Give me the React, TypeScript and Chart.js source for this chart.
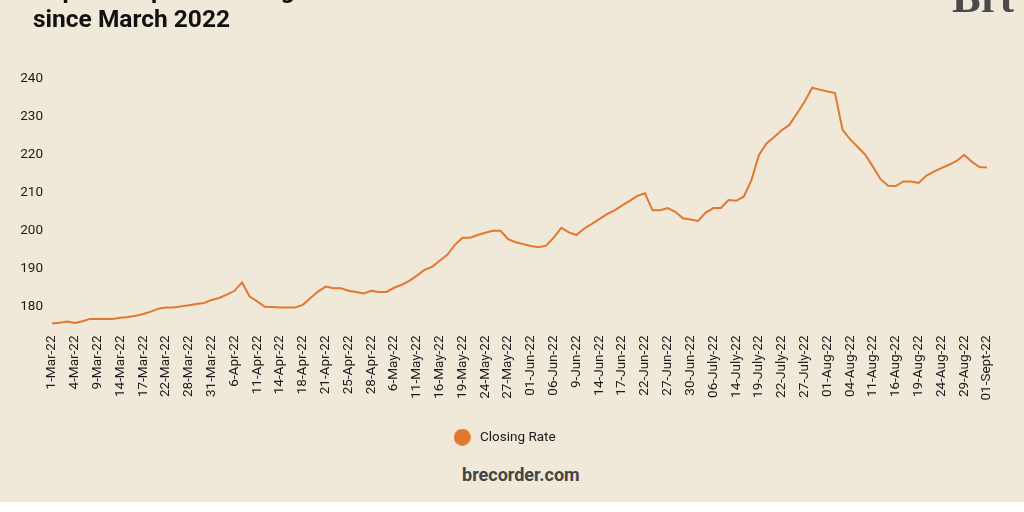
import React, { useEffect, useRef } from "react";
import { Chart, registerables } from "chart.js";

Chart.register(...registerables);

const dates: string[] = [
  "1-Mar-22", "2-Mar-22", "3-Mar-22", "4-Mar-22", "7-Mar-22", "8-Mar-22",
  "9-Mar-22", "10-Mar-22", "11-Mar-22", "14-Mar-22", "15-Mar-22", "16-Mar-22",
  "17-Mar-22", "18-Mar-22", "21-Mar-22", "22-Mar-22", "24-Mar-22", "25-Mar-22",
  "28-Mar-22", "29-Mar-22", "30-Mar-22", "31-Mar-22", "4-Apr-22", "5-Apr-22",
  "6-Apr-22", "7-Apr-22", "8-Apr-22", "11-Apr-22", "12-Apr-22", "13-Apr-22",
  "14-Apr-22", "15-Apr-22", "16-Apr-22", "18-Apr-22", "19-Apr-22", "20-Apr-22",
  "21-Apr-22", "22-Apr-22", "23-Apr-22", "25-Apr-22", "26-Apr-22", "27-Apr-22",
  "28-Apr-22", "29-Apr-22", "5-May-22", "6-May-22", "9-May-22", "10-May-22",
  "11-May-22", "12-May-22", "13-May-22", "16-May-22", "17-May-22", "18-May-22",
  "19-May-22", "20-May-22", "23-May-22", "24-May-22", "25-May-22", "26-May-22",
  "27-May-22", "30-May-22", "31-May-22", "01-Jun-22", "02-Jun-22", "03-Jun-22",
  "06-Jun-22", "7-Jun-22", "8-Jun-22", "9-Jun-22", "10-Jun-22", "13-Jun-22",
  "14-Jun-22", "15-Jun-22", "16-Jun-22", "17-Jun-22", "20-Jun-22", "21-Jun-22",
  "22-Jun-22", "23-Jun-22", "24-Jun-22", "27-Jun-22", "28-Jun-22", "29-Jun-22",
  "30-Jun-22", "01-July-22", "05-July-22", "06-July-22", "07-July-22", "13-July-22",
  "14-July-22", "15-July-22", "18-July-22", "19-July-22", "20-July-22", "21-July-22",
  "22-July-22", "25-July-22", "26-July-22", "27-July-22", "28-July-22", "29-July-22",
  "01-Aug-22", "02-Aug-22", "03-Aug-22", "04-Aug-22", "05-Aug-22", "10-Aug-22",
  "11-Aug-22", "12-Aug-22", "15-Aug-22", "16-Aug-22", "17-Aug-22", "18-Aug-22",
  "19-Aug-22", "22-Aug-22", "23-Aug-22", "24-Aug-22", "25-Aug-22", "26-Aug-22",
  "29-Aug-22", "30-Aug-22", "31-Aug-22", "01-Sept-22",
];

const closingRate: number[] = [
  175.6, 175.8, 176.1, 175.7, 176.2, 176.8, 176.8, 176.8, 176.8, 177.1,
  177.3, 177.6, 178.1, 178.7, 179.5, 179.8, 179.8, 180.1, 180.4, 180.7,
  181.0, 181.8, 182.3, 183.2, 184.2, 186.4, 182.7, 181.4, 180.0, 179.9,
  179.8, 179.8, 179.8, 180.5, 182.3, 184.0, 185.3, 184.9, 184.9, 184.2,
  183.9, 183.5, 184.2, 183.9, 183.9, 185.0, 185.8, 186.8, 188.2, 189.7,
  190.5, 192.1, 193.7, 196.3, 198.2, 198.2, 198.9, 199.5, 200.0, 200.0,
  197.8, 197.0, 196.5, 196.0, 195.7, 196.1, 198.2, 200.8, 199.6, 198.9,
  200.6, 201.8, 203.1, 204.4, 205.4, 206.7, 207.9, 209.2, 209.9, 205.4,
  205.4, 206.0, 205.0, 203.3, 203.0, 202.6, 204.8, 206.0, 206.0, 208.1,
  207.9, 209.0, 213.3, 220.0, 223.0, 224.7, 226.5, 227.9, 230.9, 234.0,
  237.7, 237.2, 236.7, 236.3, 226.6, 224.1, 222.1, 220.0, 216.9, 213.6,
  211.9, 211.8, 213.0, 213.0, 212.6, 214.5, 215.6, 216.5, 217.4, 218.4,
  220.0, 218.2, 216.8, 216.7,
];

const seriesName = "Closing Rate";
const yMin = 174;
const yMax = 240;
const yStep = 10;
const labelEvery = 3;

const ORANGE = "#E2782F";
const BG = "#F0E8D8";
const TEXT = "#1a1a1a";

function makeDot(): HTMLCanvasElement {
  const c = document.createElement("canvas");
  c.width = 17;
  c.height = 17;
  const ctx = c.getContext("2d");
  if (ctx) {
    ctx.fillStyle = ORANGE;
    ctx.beginPath();
    ctx.arc(8.5, 8.5, 8.5, 0, Math.PI * 2);
    ctx.fill();
  }
  return c;
}

export default function App() {
  const canvasRef = useRef<HTMLCanvasElement | null>(null);

  useEffect(() => {
    if (!canvasRef.current) return;
    const dot = makeDot();
    const chart = new Chart(canvasRef.current, {
      type: "line",
      data: {
        labels: dates,
        datasets: [
          {
            label: seriesName,
            data: closingRate,
            borderColor: ORANGE,
            backgroundColor: ORANGE,
            borderWidth: 2,
            pointRadius: 0,
            tension: 0,
            fill: false,
          },
        ],
      },
      options: {
        responsive: false,
        animation: false,
        layout: { padding: { top: 79, left: 20, right: 37, bottom: 0 } },
        scales: {
          x: {
            grid: { display: false, drawTicks: false },
            border: { display: false },
            ticks: {
              autoSkip: false,
              maxRotation: 90,
              minRotation: 90,
              padding: 6,
              color: TEXT,
              font: { family: "Roboto", size: 13.5 },
              callback: (_v: any, i: number) => (i % labelEvery === 0 ? dates[i] : ""),
            },
          },
          y: {
            min: yMin,
            max: yMax,
            grid: { display: false, drawTicks: false },
            border: { display: false },
            afterFit: (scale: any) => {
              scale.width = 32;
            },
            ticks: {
              stepSize: yStep,
              includeBounds: false,
              padding: 9,
              color: TEXT,
              font: { family: "Roboto", size: 13.5 },
            },
          },
        },
        plugins: {
          tooltip: { enabled: false },
          legend: {
            position: "bottom",
            labels: {
              usePointStyle: true,
              pointStyle: dot as any,
              boxHeight: 12,
              pointStyleWidth: 22,
              padding: 24,
              color: TEXT,
              font: { family: "Roboto", size: 13.5 },
            },
          },
        },
      },
    });
    return () => chart.destroy();
  }, []);

  return (
    <div
      style={{
        position: "absolute",
        left: 0,
        top: 0,
        width: 1024,
        height: 502,
        background: BG,
        overflow: "hidden",
        fontFamily: "Roboto, sans-serif",
      }}
    >
      <canvas
        ref={canvasRef}
        width={1024}
        height={454}
        style={{ position: "absolute", left: 0, top: 0, width: 1024, height: 454 }}
      />
      <div
        style={{
          position: "absolute",
          left: 33,
          top: -23.6,
          fontSize: 24.5,
          lineHeight: "28.5px",
          fontWeight: 700,
          color: "#111",
          whiteSpace: "nowrap",
        }}
      >
        <div>Rupee's depreciation against the US dollar</div>
        <div>since March 2022</div>
      </div>
      <div
        style={{
          position: "absolute",
          left: 952,
          top: -24.3,
          fontFamily: "'Liberation Serif', serif",
          fontSize: 43,
          lineHeight: "43px",
          fontWeight: 700,
          color: "#4a4a4a",
          whiteSpace: "nowrap",
        }}
      >
        Brt
      </div>
      <div
        style={{
          position: "absolute",
          left: 462,
          top: 463,
          fontSize: 18,
          lineHeight: "24px",
          fontWeight: 700,
          color: "#444",
          whiteSpace: "nowrap",
        }}
      >
        brecorder.com
      </div>
    </div>
  );
}
